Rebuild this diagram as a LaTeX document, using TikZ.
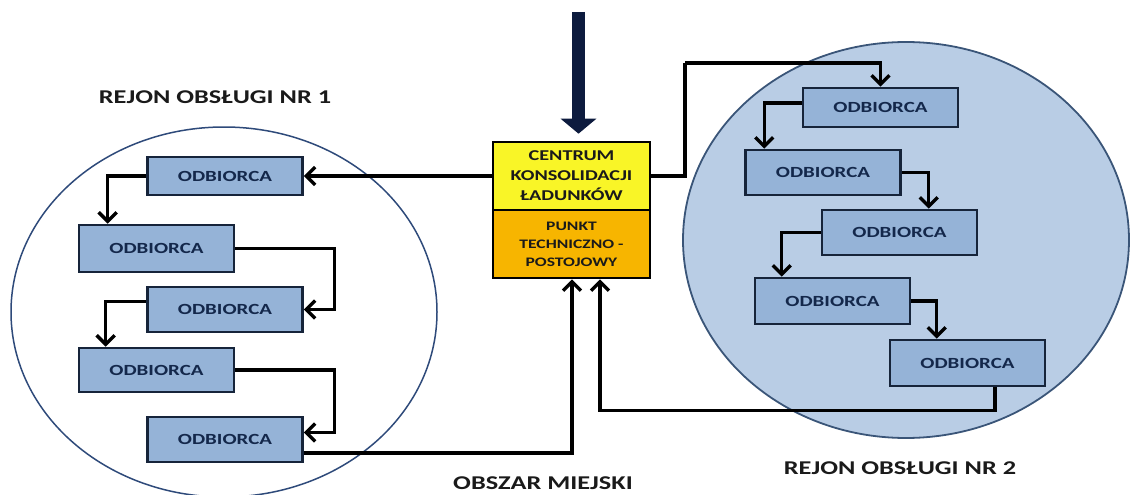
\documentclass[tikz,border=0pt]{standalone}
\usepackage{fontspec}
\usetikzlibrary{arrows.meta,calc}
\newfontfamily\wf[FakeStretch=1.35]{Carlito}
\definecolor{boxblue}{HTML}{95B3D7}
\definecolor{boxline}{HTML}{16243A}
\definecolor{boxtext}{HTML}{14284B}
\definecolor{circfill}{HTML}{B9CDE5}
\definecolor{circline}{HTML}{3A5578}
\definecolor{leftcirc}{HTML}{2E4A7A}
\definecolor{ykcolor}{HTML}{F9F527}
\definecolor{okcolor}{HTML}{F7B500}
\definecolor{navy}{HTML}{0D1B3E}
\definecolor{labtext}{HTML}{1A1A1A}
\begin{document}
\begin{tikzpicture}[x=1pt,y=-1pt,
  odb/.style={draw=boxline,line width=2.6pt,fill=boxblue,minimum width=155pt,
    inner sep=0pt,text=boxtext,font=\wf\bfseries\fontsize{15.5}{18}\selectfont},
  conn/.style={line width=3.4pt,black,-{Straight Barb[length=9pt,width=18pt]}},
  plain/.style={line width=3.4pt,black},
  lab/.style={text=labtext,font=\wf\bfseries\fontsize{19.5}{22}\selectfont,inner sep=0pt},
  cbox/.style={draw=black,line width=2.6pt,minimum width=157pt,minimum height=68pt,
    inner sep=0pt,align=center,text=labtext}]
\useasboundingbox (0,0) rectangle (1130,495);
% circles
\draw[leftcirc,line width=1.5pt] (224,312) ellipse [x radius=213,y radius=185];
\draw[circline,line width=1.8pt,fill=circfill] (906,240) ellipse [x radius=223,y radius=198];
% labels
\node[lab] (lab1) at (215,97) {REJON OBSŁUGI NR 1};
\node[lab] (lab2) at (900,468) {REJON OBSŁUGI NR 2};
\node[lab] (lab3) at (543,483) {OBSZAR MIEJSKI};
% centre boxes
\node[cbox,fill=ykcolor,font=\wf\bfseries\fontsize{15}{20}\selectfont] (ccl) at (571.5,176) {CENTRUM\\KONSOLIDACJI\\ŁADUNKÓW};
\node[cbox,fill=okcolor,font=\wf\bfseries\fontsize{13}{18}\selectfont] (pto) at (571.5,244) {PUNKT\\TECHNICZNO -\\POSTOJOWY};
% left boxes
\node[odb,minimum height=38pt] (L1) at (225,176) {ODBIORCA};
\node[odb,minimum height=47pt] (L2) at (156.5,248.5) {ODBIORCA};
\node[odb,minimum height=45pt] (L3) at (225,309.5) {ODBIORCA};
\node[odb,minimum height=44pt] (L4) at (156.5,370) {ODBIORCA};
\node[odb,minimum height=45pt] (L5) at (225,439.5) {ODBIORCA};
% right boxes
\node[odb,minimum height=39pt] (R1) at (880.5,107.5) {ODBIORCA};
\node[odb,minimum height=45pt] (R2) at (823,172.5) {ODBIORCA};
\node[odb,minimum height=45pt] (R3) at (899.5,232.5) {ODBIORCA};
\node[odb,minimum height=46pt] (R4) at (832.5,301) {ODBIORCA};
\node[odb,minimum height=46pt] (R5) at (967.5,363) {ODBIORCA};
% incoming big arrow
\coordinate (src) at (578.5,12);
\draw[navy,line width=13pt,-{Triangle[width=35pt,length=15pt]}] (src) -- ([xshift=7pt,yshift=7pt]ccl.north);
% left chain
\draw[conn] (ccl.west) -- (L1.east);
\draw[conn] (L1.west) -| ([xshift=30pt]L2.north west);
\draw[conn] (L2.east) -- ++(99,0) |- (L3.east);
\draw[conn] ([yshift=8pt]L3.west) -| ([xshift=28pt]L4.north west);
\draw[conn] (L4.east) -- ++(99,0) |- ([yshift=7pt]L5.east);
\draw[conn] ([yshift=-13.5pt]L5.east) -| ([xshift=0.5pt]pto.south);
% right chain
\coordinate (k1) at (685,63);
\draw[plain] (ccl.east) -| (k1);
\draw[conn] (k1) -| (R1.north);
\draw[conn] ([yshift=4.5pt]R1.west) -| ([xshift=20pt]R2.north west);
\draw[conn] (R2.east) -| ([xshift=108pt]R3.north west);
\draw[conn] (R3.west) -| ([xshift=28pt]R4.north west);
\draw[conn] (R4.east) -| ([xshift=48pt]R5.north west);
\draw[conn] ([xshift=27.5pt]R5.south) -- ++(0,23) -| ([xshift=28.5pt]pto.south);
\end{tikzpicture}
\end{document}
